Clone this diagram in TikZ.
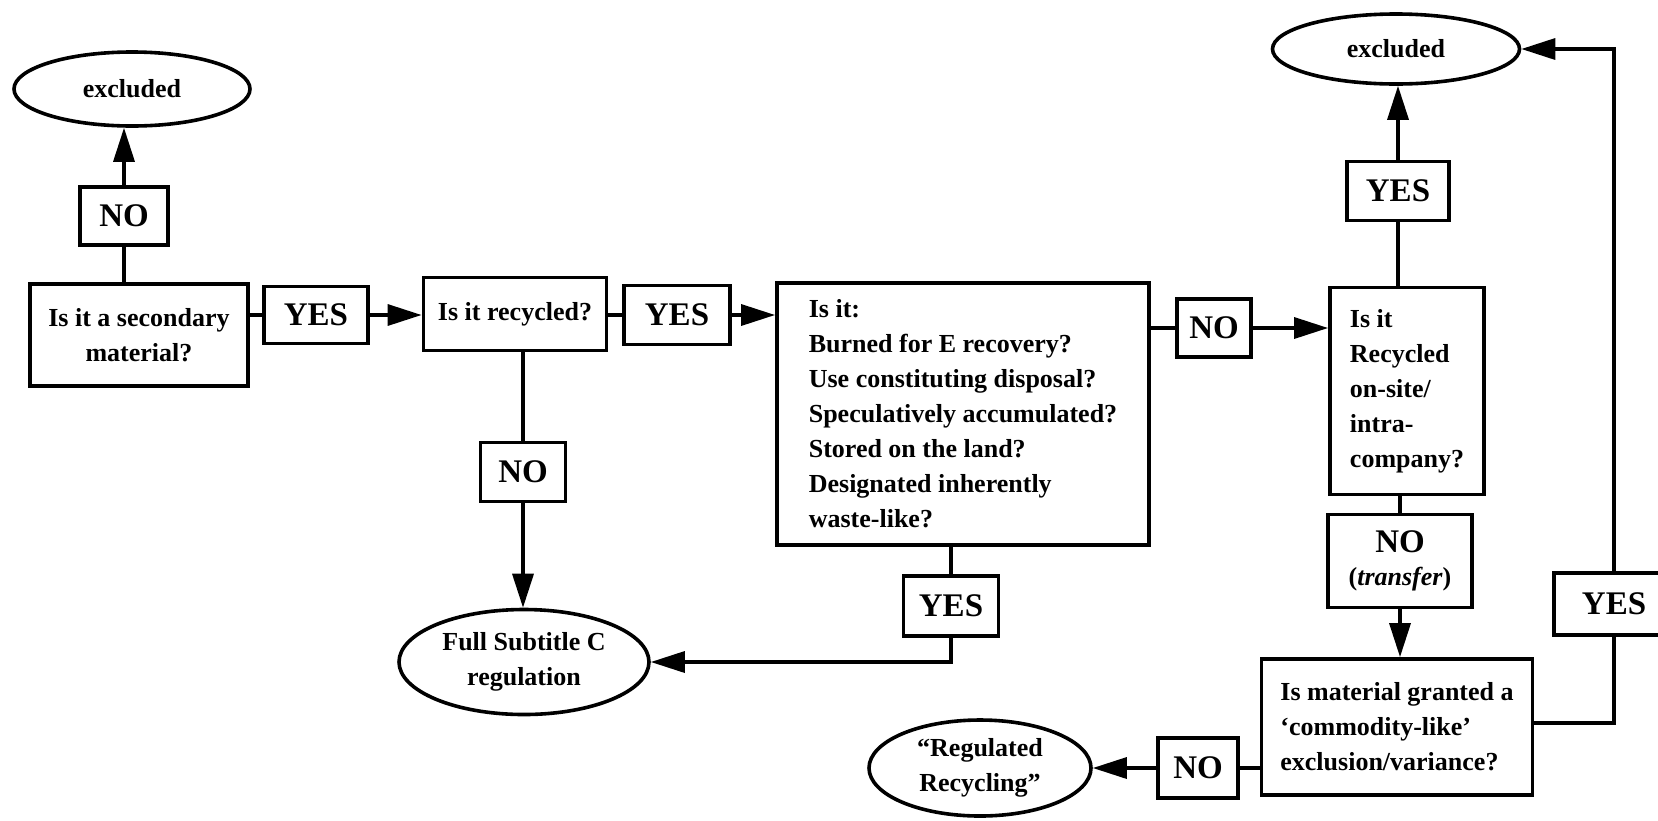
\documentclass[tikz,border=0pt]{standalone}
\usepackage{fontspec}
\setmainfont{Liberation Serif}
\usetikzlibrary{shapes.geometric,arrows.meta}
\newcommand{\lblfont}{\bfseries\fontsize{16.5}{19}\selectfont}
\begin{document}
\begin{tikzpicture}[x=0.5pt,y=-0.5pt,
  every node/.style={font=\bfseries\fontsize{13}{17.5}\selectfont, inner sep=0pt},
  qbox/.style={draw, line width=1.9pt, align=center},
  qleft/.style={draw, line width=1.9pt, align=left},
  lbl/.style={draw, line width=1.9pt, font=\lblfont},
  term/.style={draw, ellipse, line width=1.8pt, align=center},
  conn/.style={line width=1.7pt},
  arr/.style={conn, -{Triangle[length=17pt,width=10.5pt]}}
]
\useasboundingbox (0,0) rectangle (1658,820);

% terminals
\node[term, minimum width=118pt, minimum height=37pt] (exL) at (132,89) {excluded};
\node[term, minimum width=123.5pt, minimum height=35pt] (exR) at (1396,49) {excluded};
\node[term, minimum width=125pt, minimum height=52.5pt] (full) at (524,662) {Full Subtitle C\\regulation};
\node[term, minimum width=111pt, minimum height=48pt] (regRec) at (980,768) {“Regulated\\Recycling”};

% questions
\node[qbox, minimum width=109pt, minimum height=51pt] (secQ) at (139,335) {Is it a secondary\\material?};
\node[qbox, minimum width=91.5pt, minimum height=36.5pt] (recQ) at (515,314) {Is it recycled?};
\node[qleft, minimum width=186pt, minimum height=131pt] (bigQ) at (963,414)
  {Is it:\\Burned for E recovery?\\Use constituting disposal?\\Speculatively accumulated?\\Stored on the land?\\Designated inherently\\waste-like?};
\node[qleft, minimum width=77pt, minimum height=103.5pt] (onsite) at (1407,391)
  {Is it\\Recycled\\on-site/\\intra-\\company?};
\node[qleft, minimum width=135.5pt, minimum height=68pt] (comm) at (1397,727)
  {Is material granted a\\‘commodity-like’\\exclusion/variance?};

% answer labels
\node[lbl, minimum width=44pt, minimum height=29pt] (noA) at (124,216) {NO};
\node[lbl, minimum width=52pt, minimum height=28.5pt] (yesA) at (316,315) {YES};
\node[lbl, minimum width=53pt, minimum height=29.5pt] (yesB) at (677,315) {YES};
\node[lbl, minimum width=42.5pt, minimum height=29.5pt] (noB) at (523,472) {NO};
\node[lbl, minimum width=47.5pt, minimum height=30pt] (yesH) at (951,606) {YES};
\node[lbl, minimum width=37pt, minimum height=29pt] (noC) at (1214,328) {NO};
\node[lbl, minimum width=51pt, minimum height=29.5pt] (yesD) at (1398,191) {YES};
\node[qbox, minimum width=72pt, minimum height=46.5pt] (noE) at (1400,561)
  {{\lblfont NO}\\[-1pt](\textit{transfer})};
\node[lbl, minimum width=60pt, minimum height=31pt] (yesF) at (1614,604) {YES};
\node[lbl, minimum width=40pt, minimum height=30pt] (noG) at (1198,768) {NO};

% corners of the bent connectors
\coordinate (cR) at (1614,723);
\coordinate (cH) at (951,662);

% connectors
\draw[conn] (noA) -- (noA |- secQ.north);
\draw[arr] (noA) -- (noA |- exL.south);
\draw[conn] (secQ.east |- yesA) -- (yesA);
\draw[arr] (yesA) -- (yesA -| recQ.west);
\draw[conn] (recQ.east |- yesB) -- (yesB);
\draw[arr] (yesB) -- (yesB -| bigQ.west);
\draw[conn] (recQ.south -| noB) -- (noB);
\draw[arr] (noB) -- (noB |- full.north);
\draw[conn] (bigQ.south -| yesH) -- (yesH);
\draw[arr] (yesH) -- (cH) -- (full.east);
\draw[conn] (bigQ.east |- noC) -- (noC);
\draw[arr] (noC) -- (noC -| onsite.west);
\draw[conn] (onsite.north -| yesD) -- (yesD);
\draw[arr] (yesD) -- (yesD |- exR.south);
\draw[conn] (onsite.south -| noE) -- (noE);
\draw[arr] (noE) -- (noE |- comm.north);
\draw[conn] (comm.east |- cR) -- (cR) -- (yesF);
\draw[arr] (yesF) -- (yesF |- exR.east) -- (exR.east);
\draw[conn] (comm.west |- noG) -- (noG);
\draw[arr] (noG) -- (noG -| regRec.east);
\end{tikzpicture}
\end{document}
